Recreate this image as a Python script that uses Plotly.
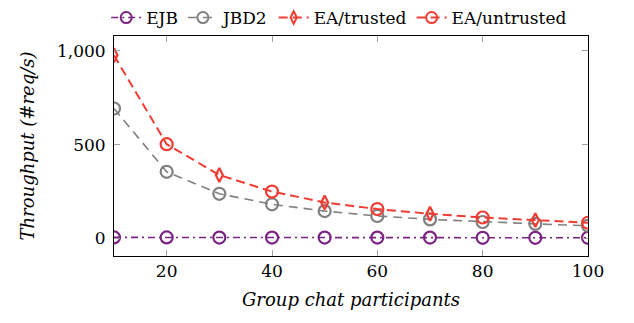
import plotly.graph_objects as go

# Group chat size vs. throughput (requests per second)
participants = [10, 20, 30, 40, 50, 60, 70, 80, 90, 100]
ejb = [6, 6, 5, 5, 5, 5, 5, 4, 4, 4]
jbd2 = [692, 355, 238, 182, 146, 120, 102, 88, 78, 68]
ea = [975, 502, 338, 250, 192, 157, 132, 112, 98, 84]

# The two EA variants share the same curve; marks alternate between them
ea_trusted_idx = [0, 2, 4, 6, 8]
ea_untrusted_idx = [1, 3, 5, 7, 9]

PURPLE = "#7b2383"
GRAY = "#808080"
RED = "#f03c32"
FONT = "DejaVu Serif"

fig = go.Figure()

def legend_entry(name, color, dash, symbol, size, lw):
    fig.add_trace(go.Scatter(
        x=[None], y=[None], name=name, mode="lines+markers",
        line=dict(color=color, dash=dash, width=lw),
        marker=dict(symbol=symbol, size=size, color=color,
                    line=dict(width=2, color=color)),
    ))

# EJB
fig.add_trace(go.Scatter(
    x=participants, y=ejb, mode="lines+markers", showlegend=False,
    line=dict(color=PURPLE, width=1.6, dash="7px,4px,2px,4px"),
    marker=dict(symbol="circle-open", size=12, color=PURPLE,
                line=dict(width=2.2, color=PURPLE)),
))
# JBD2
fig.add_trace(go.Scatter(
    x=participants, y=jbd2, mode="lines+markers", showlegend=False,
    line=dict(color=GRAY, width=1.6, dash="9px,6px"),
    marker=dict(symbol="circle-open", size=12, color=GRAY,
                line=dict(width=2.2, color=GRAY)),
))
# EA curve
fig.add_trace(go.Scatter(
    x=participants, y=ea, mode="lines", showlegend=False,
    line=dict(color=RED, width=2, dash="9px,5px"),
))
fig.add_trace(go.Scatter(
    x=[participants[i] for i in ea_trusted_idx],
    y=[ea[i] for i in ea_trusted_idx],
    mode="markers", showlegend=False,
    marker=dict(symbol="diamond-tall-open", size=10, color=RED,
                line=dict(width=2.2, color=RED)),
))
fig.add_trace(go.Scatter(
    x=[participants[i] for i in ea_untrusted_idx],
    y=[ea[i] for i in ea_untrusted_idx],
    mode="markers", showlegend=False,
    marker=dict(symbol="circle-open", size=12, color=RED,
                line=dict(width=2.2, color=RED)),
))

legend_entry("EJB", PURPLE, "7px,4px,2px,4px", "circle-open", 11, 1.6)
legend_entry("JBD2", GRAY, "9px,6px", "circle-open", 11, 1.6)
legend_entry("EA/trusted", RED, "9px,5px", "diamond-tall-open", 9, 2)
legend_entry("EA/untrusted", RED, "9px,5px", "circle-open", 11, 2)

axis_common = dict(
    showline=True, linecolor="black", linewidth=1,
    mirror="ticks", ticks="inside", ticklen=6, tickwidth=1,
    tickcolor="#a0a0a0", showgrid=False, zeroline=False,
    tickfont=dict(family=FONT, size=17, color="black"),
)

fig.update_layout(
    width=634, height=323,
    margin=dict(l=114, r=46, t=36, b=67, autoexpand=False),
    paper_bgcolor="white", plot_bgcolor="white",
    font=dict(family=FONT, size=17, color="black"),
    showlegend=True,
    legend=dict(
        orientation="h", x=0.535, xanchor="center", xref="container",
        y=1.0, yanchor="top", yref="container",
        font=dict(family=FONT, size=17, color="black"),
        itemwidth=30, tracegroupgap=0,
        bgcolor="rgba(0,0,0,0)",
    ),
    xaxis=dict(
        range=[10, 100], tick0=0, dtick=20,
        title=dict(text="<i>Group chat participants</i>",
                   font=dict(family=FONT, size=18), standoff=12),
        **axis_common,
    ),
    yaxis=dict(
        range=[-93, 1078], tickvals=[0, 500, 1000], tickformat=",",
        title=dict(text="<i>Throughput (#req/s)</i>",
                   font=dict(family=FONT, size=18), standoff=17),
        ticklabelstandoff=4,
        **axis_common,
    ),
)

fig.write_html("out.html")
